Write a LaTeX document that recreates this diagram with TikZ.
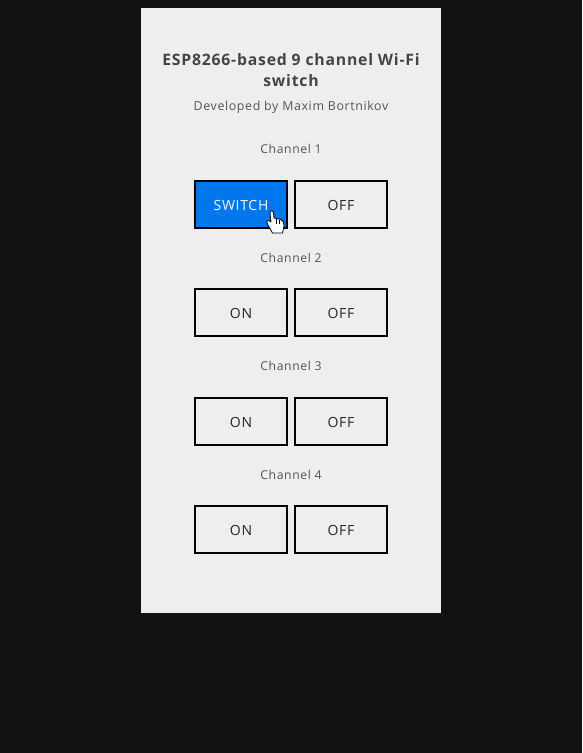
\documentclass[tikz,border=0pt]{standalone}
\usepackage{fontspec}
\setmainfont{Open Sans}[LetterSpace=5]
\usepackage{tikz}
\usetikzlibrary{positioning}
\definecolor{pagebg}{HTML}{111313}
\definecolor{panelbg}{HTML}{EEEEEE}
\definecolor{btnblue}{HTML}{0077EE}
\definecolor{titlegray}{HTML}{444444}
\definecolor{textgray}{HTML}{555555}
\tikzset{
  btn/.style={draw=black,line width=2pt,minimum width=92pt,minimum height=47pt,
    inner sep=0pt,text height=12.5pt,text depth=0pt,font=\fontsize{14}{16}\selectfont,text=black!85},
  chan/.style={font=\fontsize{12.2}{15}\selectfont,text=textgray},
}
\begin{document}
\begin{tikzpicture}[x=1pt,y=-1pt]
    \useasboundingbox[fill=pagebg] (0,0) rectangle (582,753);
    \fill[panelbg] (141,8) rectangle (441,613);
    \node[align=center,font=\bfseries\fontsize{15.75}{21}\selectfont,text=titlegray] (title) at (291,70)
      {ESP8266-based 9 channel Wi-Fi\\switch};
    \node[font=\fontsize{12.4}{15}\selectfont,text=textgray] (dev) at (291,107) {Developed by Maxim Bortnikov};
    \node[chan] (chan1) at (291,149) {Channel 1};
    \node[btn,fill=btnblue,text=white] (sw1) at (241,204.5) {SWITCH};
    \node[btn] (off1) at (341,204.5) {OFF};
    \node[chan] (chan2) at (291,258) {Channel 2};
    \node[btn] (on2) at (241,312.5) {ON};
    \node[btn] (off2) at (341,312.5) {OFF};
    \node[chan] (chan3) at (291,366) {Channel 3};
    \node[btn] (on3) at (241,421.5) {ON};
    \node[btn] (off3) at (341,421.5) {OFF};
    \node[chan] (chan4) at (291,475) {Channel 4};
    \node[btn] (on4) at (241,529.5) {ON};
    \node[btn] (off4) at (341,529.5) {OFF};
    % hand cursor
    \draw[fill=white,line width=0.8pt,line join=round] (272.5,233) -- (268,225) -- (266.5,221.5)
      -- (269,220.5) -- (271,222) -- (270,213) .. controls (270,210) and (273.5,210) .. (273.5,213)
      -- (274,218) -- (281,219.5) .. controls (283.5,220.5) and (284,223) .. (284,226)
      -- (282.5,233) -- cycle;
    \draw[line width=0.5pt] (276,219) -- (276,224) (279,220) -- (279,224);
\end{tikzpicture}
\end{document}
